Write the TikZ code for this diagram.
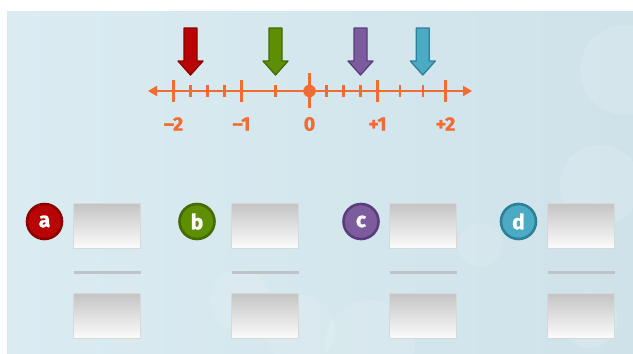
\documentclass[tikz,border=0pt]{standalone}
\usepackage{fontspec}
\newfontfamily\labfont{Fira Sans}[BoldFeatures={FakeBold=1.2}]
\usetikzlibrary{arrows.meta}
\definecolor{bgA}{HTML}{DAECF2}
\definecolor{bgB}{HTML}{CFE2E9}
\definecolor{nl}{HTML}{F26B30}
\definecolor{redF}{HTML}{B80404}\definecolor{redD}{HTML}{8A0000}
\definecolor{grnF}{HTML}{5E8E02}\definecolor{grnD}{HTML}{456A00}
\definecolor{purF}{HTML}{7C5C9C}\definecolor{purD}{HTML}{5A3E7C}
\definecolor{bluF}{HTML}{4BAAC4}\definecolor{bluD}{HTML}{2E7F98}
\definecolor{boxT}{HTML}{C4C4C4}\definecolor{boxB}{HTML}{FCFCFC}
\definecolor{boxE}{HTML}{D6D8DA}\definecolor{divc}{HTML}{BFC2C6}
\tikzset{
  majtick/.style={nl, line width=2.8pt},
  mintick/.style={nl, line width=2.4pt},
  numlab/.style={text=nl, font=\labfont\bfseries\fontsize{19.5}{19.5}\selectfont, inner sep=0pt},
  marker/.style n args={2}{fill=#1, draw=#2, line width=1.3pt, line join=round},
  letter/.style n args={2}{circle, minimum size=35pt, inner sep=0pt, fill=#1, draw=#2, line width=2.6pt,
     text=white, font=\labfont\bfseries\fontsize{21}{21}\selectfont},
  ansbox/.style={minimum width=67pt, minimum height=45pt, inner sep=0pt, draw=boxE, line width=0.8pt,
     top color=boxT, bottom color=boxB},
  divline/.style={divc, line width=3pt},
  bokeh/.style={fill=white, opacity=0.11},
}
\begin{document}
\begin{tikzpicture}[x=1pt,y=-1pt]
\useasboundingbox (0,0) rectangle (633,354);
\fill[white] (0,0) rectangle (633,354);
\shade[left color=bgA, right color=bgB] (7,11) rectangle (633,354);
% soft background circles
\begin{scope}
\clip (7,11) rectangle (633,354);
\fill[bokeh] (625,70) circle (45);
\fill[bokeh] (600,185) circle (40);
\fill[bokeh] (480,245) circle (22);
\fill[bokeh] (300,330) circle (35);
\fill[bokeh] (370,345) circle (45);
\fill[bokeh] (590,320) circle (28);
\fill[bokeh] (240,300) circle (30);
\end{scope}
% number line
\coordinate (L) at (148,91);
\coordinate (R) at (472,91);
\draw[nl, line width=2.8pt, {Triangle[width=10pt,length=9pt]}-{Triangle[width=10pt,length=9pt]}] (L) -- (R);
\foreach \v in {-2,-1,1,2} \draw[majtick] ({309.5+68*\v},80) -- ({309.5+68*\v},102);
\foreach \v in {-1.75,-1.5,-1.25,-0.5,0.25,0.5,0.75,1.3333,1.6667} \draw[mintick] ({309.5+68*\v},85) -- ({309.5+68*\v},97);
\draw[majtick] (309.5,73) -- (309.5,108);
\node[circle, fill=nl, minimum size=12.5pt, inner sep=0pt] (zero) at (309.5,91) {};
\node[numlab] (lm2) at (173.5,124) {–2};
\node[numlab] (lm1) at (241.5,124) {–1};
\node[numlab] (l0) at (309.5,124) {0};
\node[numlab] (lp1) at (377.5,124) {+1};
\node[numlab] (lp2) at (445.5,124) {+2};
% markers
\foreach \x/\f/\d in {190.5/redF/redD, 275.5/grnF/grnD, 360.5/purF/purD, 422.8/bluF/bluD}{
  \draw[marker={\f}{\d}] ({\x-6.5},28) -- ({\x+6.5},28) -- ({\x+6.5},61) -- ({\x+12.5},61)
     -- (\x,75) -- ({\x-12.5},61) -- ({\x-6.5},61) -- cycle;
}
% answer columns
\node[letter={redF}{redD}] (ca) at (44.5,221.5) {a};
\node[letter={grnF}{grnD}] (cb) at (197,221.5) {b};
\node[letter={purF}{purD}] (cc) at (361,221.5) {c};
\node[letter={bluF}{bluD}] (cd) at (518.5,221.5) {d};
\foreach \n/\x in {a/107, b/265, c/423, d/581}{
  \node[ansbox] (t\n) at (\x,226) {};
  \node[ansbox] (b\n) at (\x,316) {};
  \coordinate (dl\n) at ({\x-33.5},272);
  \coordinate (dr\n) at ({\x+33.5},272);
  \draw[divline] (dl\n) -- (dr\n);
}
\end{tikzpicture}
\end{document}
